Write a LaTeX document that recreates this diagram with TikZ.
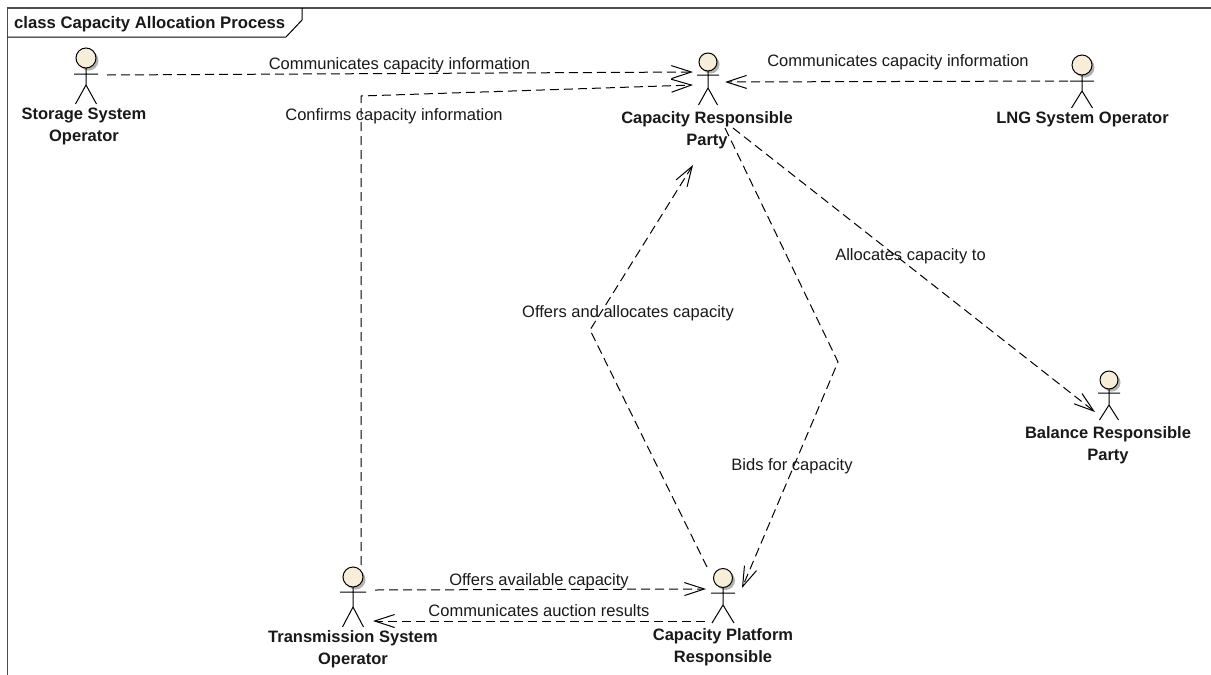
\documentclass[tikz,border=0pt]{standalone}
\usepackage{fontspec}
\setmainfont{Liberation Sans}
\usetikzlibrary{arrows.meta,calc}
\definecolor{actorfill}{RGB}{246,238,216}
\tikzset{
  x=1pt,y=-1pt,
  flow/.style={draw=black,line width=1pt,dash pattern=on 9pt off 5pt,-{Straight Barb[length=20pt,width=13pt,line width=1pt]}},
  flowlabel/.style={font=\fontsize{16.5}{19}\selectfont,text=black!90,inner sep=0pt},
  actorname/.style={font=\fontsize{16.5}{22}\selectfont\bfseries,text=black!90,align=center,inner sep=0pt},
  actorbox/.style={inner sep=0pt,minimum size=2pt},
}
% name, x, y of head centre, r, arm half, arm dy, hip dy, foot half, foot dy
\newcommand{\actorfig}[9]{%
  \node[actorbox] (#1) at (#2,#3) {};
  \fill[black!30] ($(#1)+(2.5,2.5)$) circle[radius=#4];
  \draw[fill=actorfill,line width=1pt] (#1) circle[radius=#4];
  \draw[line width=1pt] ($(#1)+(-#5,#6)$) -- ($(#1)+(#5,#6)$)
    ($(#1)+(0,#4)$) -- ($(#1)+(0,#7)$)
    ($(#1)+(-#8,#9)$) -- ($(#1)+(0,#7)$) -- ($(#1)+(#8,#9)$);
}
\begin{document}
\begin{tikzpicture}
\useasboundingbox (0,0) rectangle (1211,675);
\fill[white] (0,0) rectangle (1211,675);
% frame
\draw[line width=1.4pt,draw=black!70] (7.5,675) -- (7.5,8) -- (1211,8);
\draw[line width=1pt,draw=black] (7.5,37) -- (286,37) -- (302,20) -- (302,8);
\node[font=\fontsize{16.7}{19}\selectfont\bfseries,text=black!90,anchor=west,inner sep=0pt] (title) at (14,24) {class Capacity Allocation Process};
% actors
\actorfig{sso}{86}{58}{10}{12}{16}{27}{10.5}{46}
\actorfig{crp}{708}{62}{9}{11}{13}{26}{9.5}{43}
\actorfig{lng}{1082}{65}{10}{12}{16}{26}{10.5}{43}
\actorfig{tso}{353}{577}{10}{13}{15}{30}{10.5}{50}
\actorfig{cpr}{723}{578}{9.5}{12}{15}{27}{11}{45}
\actorfig{brp}{1109}{380}{9}{11}{13}{25}{9.5}{40}
% names
\node[actorname] (nsso) at (84,126) {Storage System\\Operator};
\node[actorname] (ncrp) at (707,130) {Capacity Responsible\\Party};
\node[actorname] (nlng) at (1082.5,119) {LNG System Operator};
\node[actorname] (ntso) at (353,649.5) {Transmission System\\Operator};
\node[actorname] (ncpr) at (723,647) {Capacity Platform\\Responsible};
\node[actorname] (nbrp) at (1108,445) {Balance Responsible\\Party};
% bends
\coordinate (b1) at (361,96);
\coordinate (b2) at (590,330);
\coordinate (b3) at (838,362);
% connectors
\draw[flow] ($(sso)+(21,17)$) -- ($(crp)+(-15,10)$);
\draw[flow] ($(tso)+(8,-12)$) -- (b1) -- ($(crp)+(-15,23)$);
\draw[flow] ($(lng)+(-14,16)$) -- ($(crp)+(17,20)$);
\draw[flow] ($(crp)+(25,66)$) -- ($(brp)+(-14,32)$);
\draw[flow] ($(crp)+(17,66)$) -- (b3) -- ($(cpr)+(19,10)$);
\draw[flow] ($(cpr)+(-16,-11)$) -- (b2) -- ($(crp)+(-15,103)$);
\draw[flow] ($(tso)+(22,13)$) -- ($(cpr)+(-17,11)$);
\draw[flow] ($(cpr)+(-18,43)$) -- ($(tso)+(20,44)$);
% labels
\node[flowlabel] (l1) at (399.5,65) {Communicates capacity information};
\node[flowlabel] (l2) at (394,116) {Confirms capacity information};
\node[flowlabel] (l3) at (898,62) {Communicates capacity information};
\node[flowlabel] (l4) at (910.5,256) {Allocates capacity to};
\node[flowlabel] (l5) at (628,313) {Offers and allocates capacity};
\node[flowlabel] (l6) at (792,466) {Bids for capacity};
\node[flowlabel] (l7) at (539,581) {Offers available capacity};
\node[flowlabel] (l8) at (539,611) {Communicates auction results};
\end{tikzpicture}
\end{document}
